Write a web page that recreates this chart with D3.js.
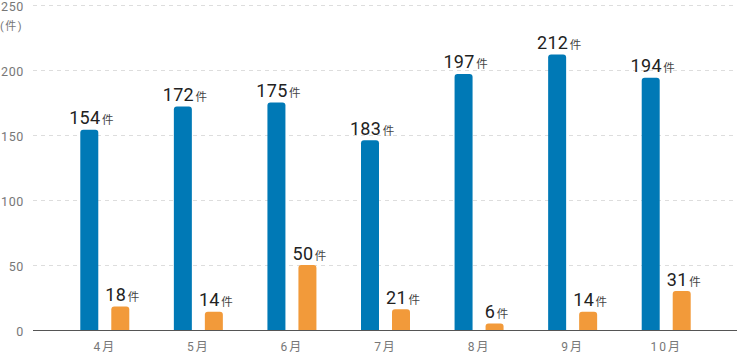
<!DOCTYPE html>
<html>
<head>
<meta charset="utf-8">
<script src="https://cdn.jsdelivr.net/npm/d3@7"></script>
<style>
  body { margin: 0; background: #fff; }
  svg { display: block; font-family: Roboto, "Noto Sans CJK JP", sans-serif; }
</style>
</head>
<body>
<div id="chart"></div>
<script>
// data
const months = ["4月", "5月", "6月", "7月", "8月", "9月", "10月"];
const blueValues = [154, 172, 175, 146, 197, 212, 194];
const orangeValues = [18, 14, 50, 16, 5, 14, 30];
const blueLabels = [154, 172, 175, 183, 197, 212, 194];
const orangeLabels = [18, 14, 50, 21, 6, 14, 31];
const yTicks = [0, 50, 100, 150, 200, 250];

const width = 737, height = 353;
const gridLeft = 33;
const blue = "#0079b6", orange = "#f29a3a";

const svg = d3.select("#chart").append("svg")
  .attr("width", width)
  .attr("height", height);

// scales
const x = d3.scaleBand()
  .domain(months)
  .range([58, 713]);

const y = d3.scaleLinear()
  .domain([0, 250])
  .range([330, 5]);

const barW = 18;
const gap = 13;

// grid
svg.append("g")
  .selectAll("line")
  .data(yTicks.filter(d => d > 0))
  .join("line")
  .attr("x1", gridLeft)
  .attr("x2", width)
  .attr("y1", d => y(d) + 0.5)
  .attr("y2", d => y(d) + 0.5)
  .attr("stroke", "#dddddd")
  .attr("stroke-dasharray", "4,4");

// y tick labels
svg.append("g")
  .selectAll("text")
  .data(yTicks)
  .join("text")
  .attr("x", 24)
  .attr("y", d => Math.max(y(d) + 5.5, 11))
  .attr("text-anchor", "end")
  .attr("fill", "#777")
  .style("font-size", "12.5px")
  .style("letter-spacing", "0.6px")
  .text(d => d);

svg.append("text")
  .attr("x", 0)
  .attr("y", 30)
  .attr("fill", "#777")
  .style("font-size", "11px")
  .style("letter-spacing", "1.5px")
  .text("(件)");

// rounded-top bar path
function barPath(x0, w, yTop, yBase, r) {
  r = Math.min(r, (yBase - yTop) / 2);
  return `M${x0},${yBase}V${yTop + r}Q${x0},${yTop} ${x0 + r},${yTop}` +
    `H${x0 + w - r}Q${x0 + w},${yTop} ${x0 + w},${yTop + r}V${yBase}Z`;
}

const groups = svg.append("g")
  .selectAll("g")
  .data(months.map((m, i) => ({
    m,
    b: blueValues[i], o: orangeValues[i],
    bl: blueLabels[i], ol: orangeLabels[i]
  })))
  .join("g");

function center(d) { return x(d.m) + x.bandwidth() / 2; }

groups.append("path")
  .attr("fill", blue)
  .attr("d", d => barPath(center(d) - gap / 2 - barW, barW, y(d.b), y(0), 3));

groups.append("path")
  .attr("fill", orange)
  .attr("d", d => barPath(center(d) + gap / 2, barW, y(d.o), y(0), 3));

function addLabel(sel, cxFn, yFn, valFn) {
  const t = sel.append("text")
    .attr("x", cxFn)
    .attr("y", yFn)
    .attr("text-anchor", "middle");
  t.append("tspan")
    .attr("fill", "#222")
    .style("font-size", "18px")
    .style("letter-spacing", "0.3px")
    .text(valFn);
  t.append("tspan")
    .attr("fill", "#444")
    .attr("dx", 1.5)
    .style("font-size", "11.5px")
    .text("件");
}

addLabel(groups, d => center(d) - gap / 2 - barW / 2 + 2, d => y(d.b) - 5.5, d => d.bl);
addLabel(groups, d => center(d) + gap / 2 + barW / 2 + 2, d => y(d.o) - 5.5, d => d.ol);

// baseline
svg.append("line")
  .attr("x1", gridLeft)
  .attr("x2", width)
  .attr("y1", y(0) + 0.5)
  .attr("y2", y(0) + 0.5)
  .attr("stroke", "#555");

// month labels
svg.append("g")
  .selectAll("text")
  .data(months)
  .join("text")
  .attr("x", d => x(d) + x.bandwidth() / 2)
  .attr("y", 351)
  .attr("text-anchor", "middle")
  .attr("fill", "#777")
  .style("font-size", "12px")
  .style("letter-spacing", "2px")
  .text(d => d);
</script>
</body>
</html>
